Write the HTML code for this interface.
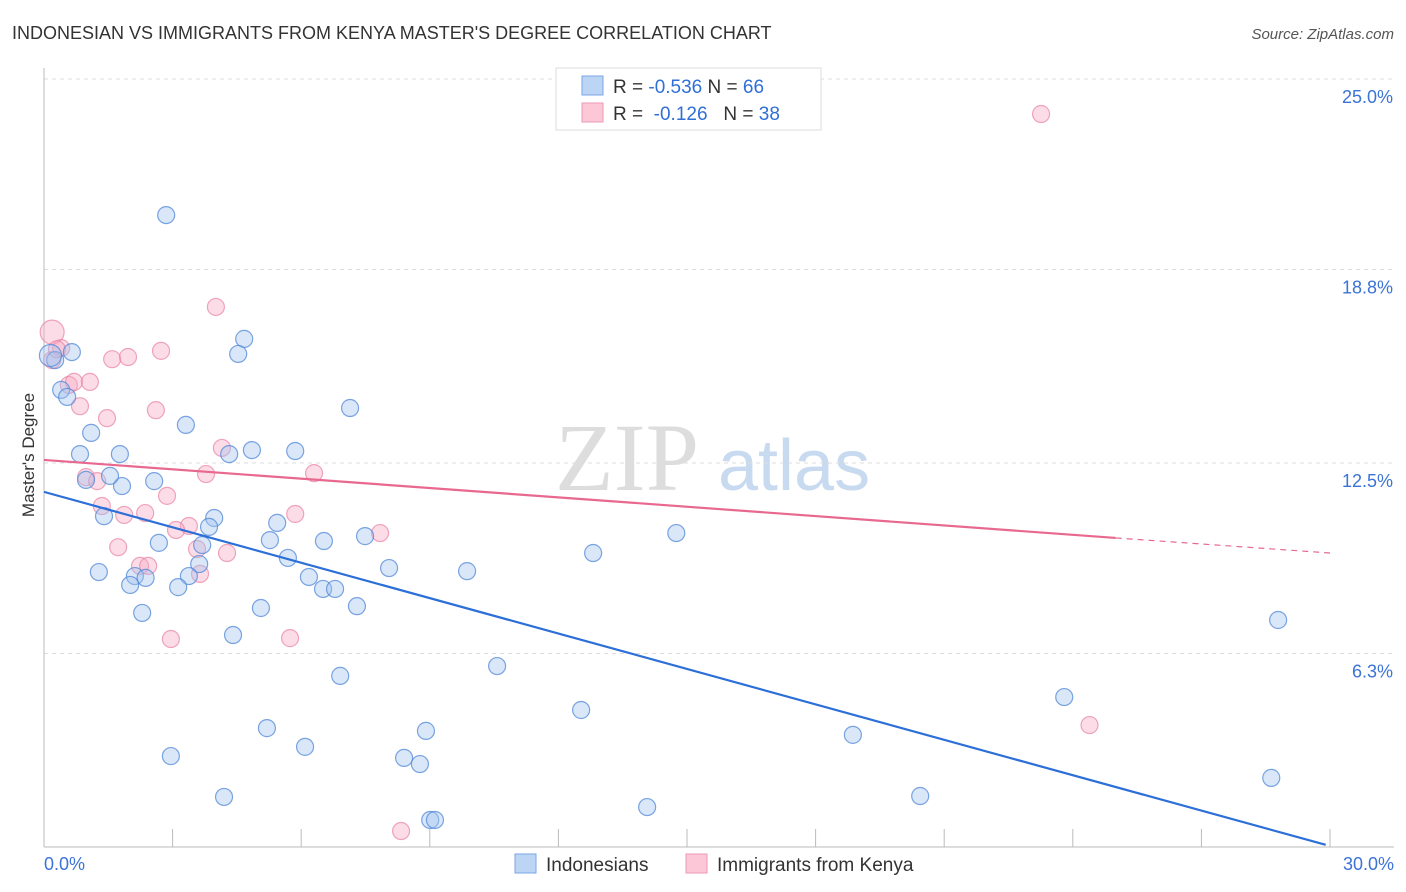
<!DOCTYPE html>
<html><head><meta charset="utf-8"><style>
body{margin:0;background:#fff;font-family:"Liberation Sans",sans-serif;}
svg{display:block}
</style></head><body>
<svg id="chart" width="1406" height="892" xmlns="http://www.w3.org/2000/svg">
<text x="12" y="39" font-size="18" fill="#333">INDONESIAN VS IMMIGRANTS FROM KENYA MASTER'S DEGREE CORRELATION CHART</text>
<text x="1394" y="39" font-size="15" fill="#555" font-style="italic" text-anchor="end">Source: ZipAtlas.com</text>
<g>
<text x="555" y="490" font-size="96" fill="#ddd" font-family="Liberation Serif,serif">ZIP</text>
<text x="718" y="490" font-size="72" fill="#c8daf0">atlas</text>
</g>
<g id="grid"></g>
<g id="axes"></g>
<g id="points"></g>
<g id="trends"></g>
<text transform="translate(34,455) rotate(-90)" font-size="17" fill="#333" text-anchor="middle">Master's Degree</text>
<g>
<rect x="556" y="68" width="265" height="62" fill="#fff" stroke="#ddd"/>
<rect x="582" y="76" width="21" height="19" fill="#bcd5f5" stroke="#7aa6e6"/>
<rect x="582" y="103" width="21" height="19" fill="#fcc8d8" stroke="#ec9ab4"/>
<text x="613" y="93" font-size="19" fill="#333">R = <tspan fill="#2f6fd6">-0.536</tspan>   N = <tspan fill="#2f6fd6">66</tspan></text>
<text x="613" y="120" font-size="19" fill="#333" xml:space="preserve">R =  <tspan fill="#2f6fd6">-0.126</tspan>   N = <tspan fill="#2f6fd6">38</tspan></text>
</g>
<g>
<rect x="515" y="854" width="21" height="19" fill="#bcd5f5" stroke="#7aa6e6"/>
<text x="546" y="871" font-size="19" fill="#333">Indonesians</text>
<rect x="686" y="854" width="21" height="19" fill="#fcc8d8" stroke="#ec9ab4"/>
<text x="717" y="871" font-size="19" fill="#333">Immigrants from Kenya</text>
</g>
</svg>
<script>
const yTicks=[25,18.8,12.5,6.3];
const yTickLabels=["25.0%","18.8%","12.5%","6.3%"];
const xTickLabels=["0.0%","30.0%"];
const blueX=[2.85,4.67,4.53,0.65,0.26,0.40,0.54,7.14,1.10,3.31,0.84,1.77,4.85,5.86,4.32,0.98,1.82,2.57,1.54,3.97,1.40,3.85,5.44,2.68,3.69,5.27,6.53,7.49,5.69,3.62,1.28,2.12,2.37,3.38,2.01,3.13,6.18,6.51,6.79,8.05,9.87,12.81,14.75,2.29,5.06,7.30,4.41,6.91,10.57,5.20,6.09,8.91,8.40,8.77,2.96,4.20,9.01,9.12,12.53,14.07,18.87,20.44,23.80,28.63,28.79,0.15];
const blueY=[20.57,16.54,16.05,16.11,15.85,14.88,14.65,14.29,13.48,13.74,12.79,12.79,12.92,12.89,12.79,11.95,11.75,11.91,12.08,10.71,10.77,10.42,10.55,9.90,9.83,9.99,9.96,10.12,9.41,9.21,8.95,8.82,8.76,8.82,8.53,8.46,8.79,8.40,8.40,9.08,8.98,9.57,10.22,7.62,7.78,7.84,6.90,5.57,5.89,3.87,3.26,3.78,2.90,2.70,2.96,1.63,0.88,0.88,4.46,1.30,3.65,1.66,4.88,2.25,7.39,16.0];
const pinkX=[23.26,4.01,0.19,0.40,1.59,1.96,2.73,0.19,0.58,0.70,1.07,0.84,1.47,2.61,4.15,3.78,6.30,0.98,1.24,2.87,1.35,1.87,2.36,5.86,3.38,3.08,7.84,1.73,3.57,4.27,2.24,2.43,3.64,2.96,5.74,24.39,8.33,0.3];
const pinkY=[23.86,17.58,16.76,16.24,15.88,15.95,16.15,15.85,15.04,15.14,15.14,14.35,13.96,14.22,12.99,12.14,12.17,12.04,11.91,11.43,11.10,10.81,10.87,10.84,10.45,10.32,10.22,9.76,9.70,9.57,9.15,9.15,8.89,6.77,6.80,3.97,0.52,16.2];
const blueTrend=[11.56,0.07];
const blueTrendX=[0,29.9];
const pinkTrend=[12.6,10.06,9.57];
const pinkTrendX=[0,25,30];
const NS="http://www.w3.org/2000/svg";
const xs=v=>44+v/30*1286;
const ys=v=>847-v/25*768;
function mk(tag,attrs,parent){const e=document.createElementNS(NS,tag);for(const k in attrs)e.setAttribute(k,attrs[k]);document.getElementById(parent).appendChild(e);return e;}
yTicks.forEach((t,i)=>{
 const l=mk('line',{x1:44,x2:1394,y1:ys(t),y2:ys(t),stroke:'#ddd','stroke-dasharray':'4,4'},'grid');
 
 
 const tx=mk('text',{x:1393,y:ys(t)+24,'font-size':18,fill:'#3b73d6','text-anchor':'end'},'axes');
 tx.textContent=yTickLabels[i];
 
 
});
const ax=mk('line',{x1:44,x2:44,y1:68,y2:847,stroke:'#bbb'},'axes');


const bx=mk('line',{x1:44,x2:1394,y1:847,y2:847,stroke:'#bbb'},'axes');


for(let i=1;i<=10;i++){
 const tk=mk('line',{x1:xs(i*3),x2:xs(i*3),y1:829,y2:847,stroke:'#bbb'},'axes');
 
 
}
[[0,'start',44],[30,'end',1394]].forEach((a,i)=>{
 const tx=mk('text',{x:a[2],y:870,'font-size':18,fill:'#3b73d6','text-anchor':a[1]},'axes');
 tx.textContent=xTickLabels[i];
 
 
});
pinkX.forEach((v,i)=>{
 const c=mk('circle',{cx:xs(v),cy:ys(pinkY[i]),r:i==2?12:8.5,fill:'rgba(247,170,195,0.4)',stroke:'rgba(232,130,163,0.7)','stroke-width':1.2},'points');
 
 
});
blueX.forEach((v,i)=>{
 const c=mk('circle',{cx:xs(v),cy:ys(blueY[i]),r:i==65?11:8.5,fill:'rgba(160,195,240,0.4)',stroke:'rgba(80,135,215,0.75)','stroke-width':1.2},'points');
 
 
});
const bl=mk('line',{x1:xs(blueTrendX[0]),y1:ys(blueTrend[0]),x2:xs(blueTrendX[1]),y2:ys(blueTrend[1]),stroke:'#2c6fd8','stroke-width':2.2},'trends');


const pl=mk('line',{x1:xs(pinkTrendX[0]),y1:ys(pinkTrend[0]),x2:xs(pinkTrendX[1]),y2:ys(pinkTrend[1]),stroke:'#e8688f','stroke-width':2.2},'trends');


const pd=mk('line',{x1:xs(pinkTrendX[1]),y1:ys(pinkTrend[1]),x2:xs(pinkTrendX[2]),y2:ys(pinkTrend[2]),stroke:'#e8688f','stroke-width':1.2,'stroke-dasharray':'6,5'},'trends');


</script>
</body></html>
